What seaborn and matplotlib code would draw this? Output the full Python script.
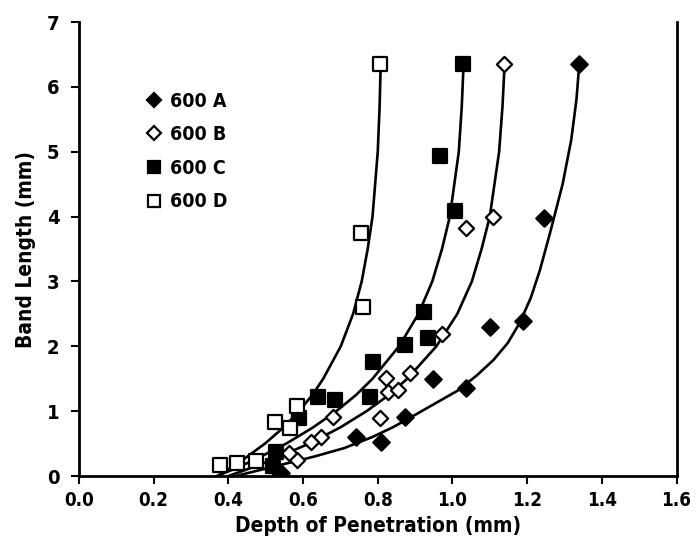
import matplotlib
matplotlib.use("Agg")
import matplotlib.pyplot as plt
import seaborn as sns
from matplotlib.lines import Line2D

# ---- data ----
A_x = [1.338, 1.245, 1.19, 1.10, 0.947, 1.037, 0.872, 0.81, 0.742, 0.524, 0.54]
A_y = [6.36, 3.98, 2.39, 2.30, 1.49, 1.36, 0.91, 0.52, 0.60, 0.12, 0.05]

B_x = [1.138, 1.109, 1.037, 0.973, 0.886, 0.822, 0.827, 0.854, 0.806, 0.681, 0.649, 0.622, 0.585, 0.561]
B_y = [6.36, 4.00, 3.82, 2.19, 1.59, 1.51, 1.29, 1.33, 0.89, 0.91, 0.60, 0.52, 0.25, 0.35]

C_x = [1.027, 0.968, 1.008, 0.925, 0.934, 0.872, 0.787, 0.779, 0.641, 0.686, 0.588, 0.527, 0.52]
C_y = [6.36, 4.93, 4.08, 2.53, 2.13, 2.02, 1.76, 1.22, 1.22, 1.17, 0.89, 0.37, 0.15]

D_x = [0.806, 0.755, 0.76, 0.583, 0.526, 0.566, 0.473, 0.423, 0.378]
D_y = [6.36, 3.74, 2.60, 1.08, 0.83, 0.74, 0.23, 0.20, 0.17]

# fitted curves, points
curve_y = [0, 0.1, 0.25, 0.5, 0.75, 1, 1.25, 1.5, 2, 2.5, 3, 3.5, 4, 5, 5.7, 6.38]
D_cx = [0.37, 0.399, 0.439, 0.498, 0.548, 0.589, 0.625, 0.654, 0.701, 0.734, 0.757, 0.773, 0.786, 0.800, 0.805, 0.808]
C_cx = [0.37, 0.412, 0.470, 0.555, 0.627, 0.689, 0.742, 0.786, 0.857, 0.909, 0.946, 0.972, 0.993, 1.017, 1.025, 1.030]
B_cx = [0.40, 0.449, 0.517, 0.616, 0.700, 0.770, 0.830, 0.879, 0.957, 1.013, 1.052, 1.078, 1.100, 1.125, 1.134, 1.140]
A_cy = [0, 0.1, 0.2, 0.3, 0.43, 0.6, 0.75, 0.91, 1.1, 1.32, 1.55, 1.79, 2.05, 2.36, 2.75, 3.17, 3.74, 4.5, 5.18, 5.8, 6.38]
A_cx = [0.42, 0.49, 0.56, 0.63, 0.71, 0.785, 0.84, 0.89, 0.948, 1.015, 1.065, 1.11, 1.148, 1.18, 1.21, 1.234, 1.261, 1.295, 1.318, 1.332, 1.34]

labels = ["600 A", "600 B", "600 C", "600 D"]
x_ticks = [0.0, 0.2, 0.4, 0.6, 0.8, 1.0, 1.2, 1.4, 1.6]
y_ticks = [0, 1, 2, 3, 4, 5, 6, 7]

sns.set_theme(style="ticks")
plt.rcParams["font.family"] = ["DejaVu Sans"]
plt.rcParams["font.stretch"] = "condensed"
plt.rcParams["font.weight"] = "bold"
for k in ["text.color", "axes.labelcolor", "xtick.color", "ytick.color", "axes.edgecolor"]:
    plt.rcParams[k] = "black"

fig = plt.figure(figsize=(6.96, 5.57), dpi=100)
ax = fig.add_axes([0.1135, 0.1454, 0.8585, 0.8151])

lw = 1.9
for cx, cy in [(A_cx, A_cy), (B_cx, curve_y), (C_cx, curve_y), (D_cx, curve_y)]:
    sns.lineplot(x=cx, y=cy, sort=False, estimator=None, color="black", lw=lw, ax=ax)

styles = [
    (A_x, A_y, "D", "black", 70),
    (B_x, B_y, "D", "white", 60),
    (C_x, C_y, "s", "black", 90),
    (D_x, D_y, "s", "white", 90),
]
for (xs, ys, m, fc, s) in styles:
    sns.scatterplot(x=xs, y=ys, marker=m, s=s, color=fc, edgecolor="black",
                    linewidth=1.6, ax=ax, zorder=5)

ax.set_xlim(0, 1.6)
ax.set_ylim(0, 7)
ax.set_xticks(x_ticks)
ax.set_xticklabels([f"{v:.1f}" for v in x_ticks])
ax.set_yticks(y_ticks)
ax.set_yticklabels([str(v) for v in y_ticks])
ax.tick_params(axis="y", labelsize=14.5, width=1.5, length=6, pad=8)
ax.tick_params(axis="x", labelsize=13.5, width=1.5, length=6, pad=5)
for sp in ["left", "bottom", "right"]:
    ax.spines[sp].set_linewidth(2)
ax.spines["top"].set_visible(False)

ax.set_xlabel("Depth of Penetration (mm)", fontsize=15, fontweight="bold", labelpad=4)
ax.set_ylabel("Band Length (mm)", fontsize=15, fontweight="bold", labelpad=8)

handles = [
    Line2D([], [], marker="D", ls="", mfc="black", mec="black", ms=7, mew=1.6),
    Line2D([], [], marker="D", ls="", mfc="white", mec="black", ms=7, mew=1.6),
    Line2D([], [], marker="s", ls="", mfc="black", mec="black", ms=9, mew=1.6),
    Line2D([], [], marker="s", ls="", mfc="white", mec="black", ms=9, mew=1.6),
]
ax.legend(handles, labels, loc="upper left", bbox_to_anchor=(0.08, 0.885), frameon=False,
          handletextpad=0.3, labelspacing=0.75, handlelength=1.0,
          prop={"size": 14, "weight": "bold", "stretch": "condensed"})

fig.savefig("out.png", dpi=100, facecolor="white")
